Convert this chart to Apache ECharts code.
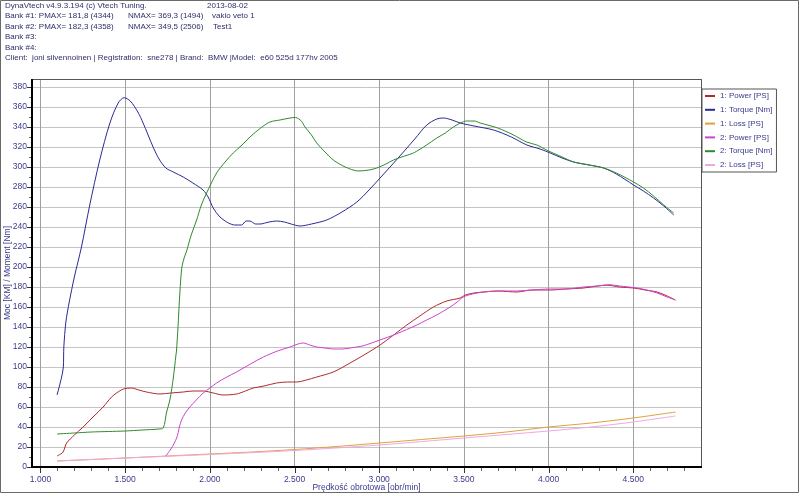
<!DOCTYPE html>
<html><head><meta charset="utf-8">
<script src="https://cdn.jsdelivr.net/npm/echarts@6/dist/echarts.min.js"></script>
<style>html,body{margin:0;padding:0;background:#fff}#c{width:800px;height:494px}</style>
</head><body><div id="c"></div>
<script>
// ---- data ----
const seriesNames = ['1: Power [PS]', '1: Torque [Nm]', '1: Loss [PS]', '2: Power [PS]', '2: Torque [Nm]', '2: Loss [PS]'];
const xTickLabels = ['1.000', '1.500', '2.000', '2.500', '3.000', '3.500', '4.000', '4.500'];

const power1Rpm = [1098,1120,1134,1145,1154,1200,1252,1310,1370,1420,1449,1490,1538,1580,1626,1705,1770,1843,1900,1961,2020,2079,2158,2210,2257,2320,2394,2460,2513,2570,2631,2729,2828,2920,3005,3085,3163,3240,3320,3399,3478,3508,3560,3616,3700,3813,3900,4010,4100,4207,4290,4344,4420,4502,4570,4641,4700,4749];
const power1Val = [11,13,15,20,24,32,40,50,60,70,74,78,79,77,75,73,74,75,76,76,74,72,73,76,79,81,84,85,85,87,90,95,104,113,122,132,142,151,160,166,169,172,174,175,176,175,177,177,178,179,181,181.8,180,179,177,175,171,167];

const torque1Rpm = [1098,1125,1135,1138,1150,1170,1200,1242,1291,1350,1410,1459,1494,1530,1575,1606,1665,1700,1740,1784,1843,1900,1960,1990,2020,2060,2110,2148,2187,2215,2237,2270,2296,2350,2394,2440,2480,2532,2600,2690,2780,2868,2940,3005,3080,3143,3210,3281,3340,3379,3430,3478,3560,3675,3780,3872,3950,4010,4080,4148,4240,4325,4400,4502,4560,4620,4680,4739];
const torque1Val = [72,90,100,120,145,165,190,220,262,307,344,364,369.3,366,355,344,320,308,299,295,290,284,277,270,259,250,244,242,242,246,246,243,243,245,246,245,243,241,243,247,255,265,277,289,303,315,328,342,348,349,347,344,341,337,330,322,318,314,309,305,302,299,293,282,276,269,261,252];

const loss1Rpm = [1098,1300,1500,1750,2000,2250,2500,2750,3000,3250,3500,3750,4000,4250,4500,4749];
const loss1Val = [6,7.5,9,11,13,15,17.5,20.5,24,27.5,31,35,40,44,49,55];

const power2Rpm = [1735,1770,1804,1820,1833,1855,1882,1920,1961,2000,2040,2100,2158,2240,2316,2400,2473,2520,2552,2590,2631,2680,2729,2780,2828,2900,3005,3100,3222,3280,3340,3380,3419,3460,3497,3550,3616,3700,3813,3900,4010,4100,4207,4290,4358,4420,4522,4580,4641,4700,4749];
const power2Val = [10,18,29,40,47,54,60,67,74,79,84,90,95,103,110,116,120,123,124,122,120,119,118,118,119,121,127,133,142,147,152,156,160,165,170,173,175,176,176,177,178,178,180,181,182.3,181,179,177,174,170,167];

const torque2Rpm = [1098,1200,1300,1400,1500,1600,1700,1725,1745,1764,1785,1800,1803,1812,1823,1835,1850,1863,1890,1922,1950,1981,2040,2090,2138,2190,2237,2300,2355,2414,2473,2506,2540,2562,2600,2631,2680,2729,2800,2877,2940,2986,3040,3084,3150,3202,3280,3340,3390,3438,3480,3517,3560,3596,3700,3793,3870,3931,4000,4080,4148,4240,4325,4400,4502,4560,4620,4680,4739];
const torque2Val = [33,34,35,35.5,36,37,38,39,55,67,90,112,116,140,174,200,210,216,232,247,262,274,294,305,314,322,330,339,345,347,349,349.5,346,340,332,324,315,307,300,296,297,299,303,307,311,314,322,329,334,340,344,346,346,344,339,332,325,322,316,310,305,302,299,294,285,279,271,262,254];

const loss2Rpm = [1098,1500,2000,2500,3000,3500,4000,4250,4500,4749];
const loss2Val = [6,9,12.5,16.5,22,29,36,40,45,51];

const colors = ['#b02a2a', '#2a2a96', '#e0a040', '#cc44cc', '#2f8a2f', '#f0a8e0'];

// ---- build ----
const zip = (a, b) => a.map((v, i) => [v, b[i]]);
const seriesData = [
  zip(power1Rpm, power1Val), zip(torque1Rpm, torque1Val), zip(loss1Rpm, loss1Val),
  zip(power2Rpm, power2Val), zip(torque2Rpm, torque2Val), zip(loss2Rpm, loss2Val)
];
const FONT = '"Liberation Sans", Arial, sans-serif';
const TXT = '#2e2e6a';
const LBL = '#3a3a8c';
const X_MIN = 950, X_MAX = 4900, Y_MIN = 0, Y_MAX = 388;

const headerLines = [
  [5, 6.5, 'DynaVtech v4.9.3.194 (c) Vtech Tuning.'], [207, 6.5, '2013-08-02'],
  [5, 17, 'Bank #1: PMAX= 181,8 (4344)'], [128, 17, 'NMAX= 369,3 (1494)'], [212, 17, 'vakio veto 1'],
  [5, 27.5, 'Bank #2: PMAX= 182,3 (4358)'], [128, 27.5, 'NMAX= 349,5 (2506)'], [213, 27.5, 'Test1'],
  [5, 38, 'Bank #3:'],
  [5, 48.5, 'Bank #4:'],
  [5, 59, 'Client:  joni silvennoinen | Registration:  sne278 | Brand:  BMW |Model:  e60 525d 177hv 2005']
];

const xFmt = v => (v % 500 === 0 && v >= 1000 && v <= 4500) ? xTickLabels[(v - 1000) / 500] : '';

const baseGraphic = [
  {type: 'rect', id: 'frame', silent: true, shape: {x: 0.5, y: 0.5, width: 798, height: 492}, style: {fill: 'none', stroke: '#6a6a6a', lineWidth: 1}}
].concat(headerLines.map((h, i) => ({
  type: 'text', id: 'hdr' + i, silent: true, left: h[0], top: h[1] - 5,
  style: {text: h[2], fill: TXT, font: '8px ' + FONT}
})));

const chart = echarts.init(document.getElementById('c'), null, {renderer: 'canvas'});
chart.setOption({
  animation: false,
  backgroundColor: '#fff',
  color: colors,
  grid: {left: 32, right: 99, top: 79, bottom: 27, show: false, containLabel: false, outerBoundsMode: 'none'},
  xAxis: {
    type: 'value', min: X_MIN, max: X_MAX, minInterval: 500, maxInterval: 500, splitNumber: 8,
    name: 'Prędkość obrotowa [obr/min]', nameLocation: 'middle', nameGap: 16, nameMoveOverlap: false,
    nameTextStyle: {color: LBL, fontSize: 8.5, fontFamily: FONT},
    axisLine: {show: false}, axisTick: {show: false}, minorTick: {show: false},
    axisLabel: {color: LBL, fontSize: 8.5, fontFamily: FONT, margin: 8, formatter: xFmt},
    splitLine: {show: true, lineStyle: {color: '#a0a0a0', width: 1}}
  },
  yAxis: {
    type: 'value', min: Y_MIN, max: Y_MAX, interval: 20,
    name: 'Moc [KM] / Moment [Nm]', nameLocation: 'middle', nameGap: 20, nameMoveOverlap: false,
    nameTextStyle: {color: LBL, fontSize: 8.5, fontFamily: FONT},
    axisLine: {show: false}, axisTick: {show: false}, minorTick: {show: false},
    axisLabel: {color: LBL, fontSize: 8.5, fontFamily: FONT, margin: 5,
      formatter: v => (v % 20 === 0) ? String(v) : ''},
    splitLine: {show: true, lineStyle: {color: '#c4c4c4', width: 1}}
  },
  legend: {
    orient: 'vertical', left: 702, top: 89, data: seriesNames,
    backgroundColor: '#fff', borderColor: '#555', borderWidth: 1,
    padding: [1, 4, 1, 3], itemGap: 1.8, itemWidth: 10, itemHeight: 2, icon: 'rect',
    textStyle: {color: LBL, fontSize: 8, fontFamily: FONT, lineHeight: 12}
  },
  graphic: baseGraphic,
  series: seriesNames.map((n, i) => ({
    name: n, type: 'line', data: seriesData[i], showSymbol: false, symbol: 'none',
    smooth: 0.3, lineStyle: {width: 1, color: colors[i]}, itemStyle: {color: colors[i]}
  }))
});

// ---- axis lines, plot border and ticks, positioned through the chart's own scales ----
const P = (x, y) => chart.convertToPixel({gridIndex: 0}, [x, y]);
const [gx0, gy0] = P(X_MIN, Y_MIN);
const [gx1, gy1] = P(X_MAX, Y_MAX);
const rx0 = Math.round(gx0), ry0 = Math.round(gy0), rx1 = Math.round(gx1), ry1 = Math.round(gy1);
const extra = [];
extra.push({type: 'rect', id: 'plotBorder', silent: true, z: 50,
  shape: {x: rx0 + 0.5, y: ry1 + 0.5, width: rx1 - rx0, height: ry0 - ry1},
  style: {fill: 'none', stroke: '#555', lineWidth: 1}});
extra.push({type: 'line', id: 'xAxisLine', silent: true, z: 51,
  shape: {x1: rx0 - 1, y1: ry0, x2: rx1 + 1, y2: ry0}, style: {stroke: '#000', lineWidth: 2}});
extra.push({type: 'line', id: 'yAxisLine', silent: true, z: 51,
  shape: {x1: rx0, y1: ry1, x2: rx0, y2: ry0 + 1}, style: {stroke: '#000', lineWidth: 2}});
for (let v = 1000; v <= 4800; v += 100) {
  const x = Math.round(P(v, Y_MIN)[0]) + 0.5;
  const len = (v % 500 === 0) ? 5 : 3;
  extra.push({type: 'line', id: 'xt' + v, silent: true, z: 51,
    shape: {x1: x, y1: ry0 + 1, x2: x, y2: ry0 + 1 + len}, style: {stroke: (v % 500 === 0) ? '#333' : '#666', lineWidth: 1}});
}
for (let v = 0; v <= 380; v += 10) {
  const y = Math.round(P(X_MIN, v)[1]) + 0.5;
  const len = (v % 20 === 0) ? 4 : 2;
  extra.push({type: 'line', id: 'yt' + v, silent: true, z: 51,
    shape: {x1: rx0 - 1 - len, y1: y, x2: rx0 - 1, y2: y}, style: {stroke: (v % 20 === 0) ? '#333' : '#666', lineWidth: 1}});
}
chart.setOption({graphic: baseGraphic.concat(extra)});
</script>
</body></html>
